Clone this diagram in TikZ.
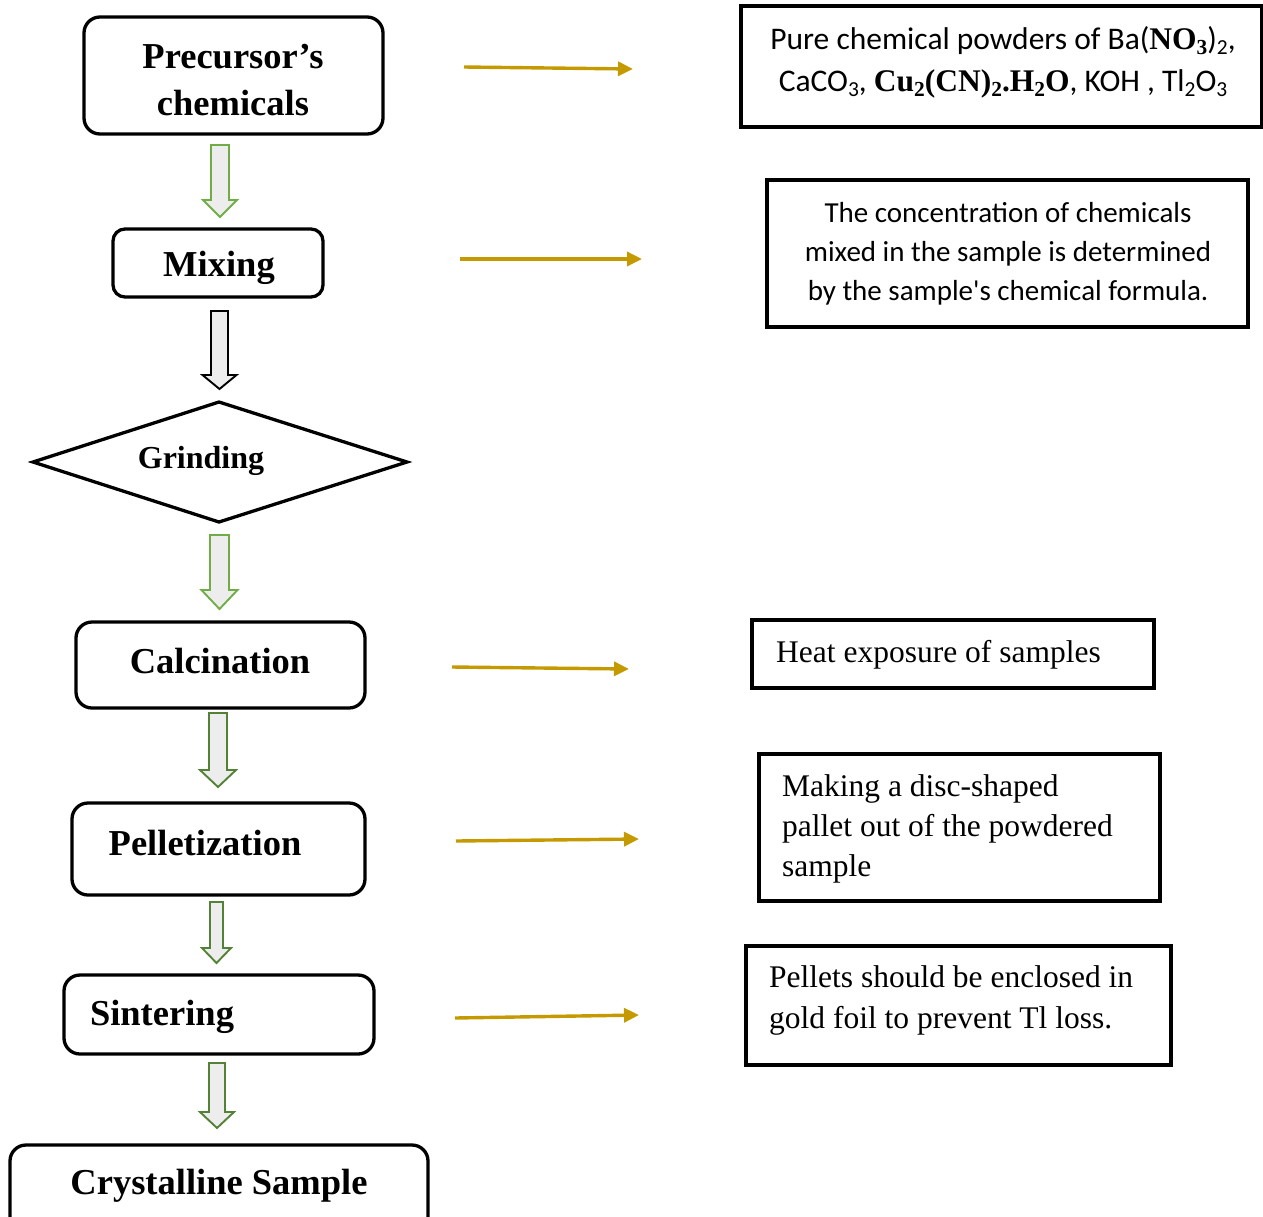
\documentclass[tikz,border=0pt]{standalone}
\usepackage{fontspec}
\setmainfont{Liberation Serif}
\newfontfamily\carl{Carlito}
\newfontfamily\cmb{Liberation Serif}
\usetikzlibrary{arrows.meta}
\definecolor{lgreen}{HTML}{70AD47}
\definecolor{dgreen}{HTML}{538135}
\definecolor{arrfill}{HTML}{EDEDED}
\definecolor{gold}{HTML}{C49A00}
\newcommand\chs[1]{\raisebox{-0.18em}{\scalebox{0.68}{#1}}}
\newcommand\blockarr[7]{%
  \draw[line width=1.9pt, draw=#7, fill=arrfill, line join=miter]
    (#1-#5,#2) -- (#1+#5,#2) -- (#1+#5,#3) -- (#1+#6,#3) -- (#1,#4)
    -- (#1-#6,#3) -- (#1-#5,#3) -- cycle;}
\tikzset{
  stagebox/.style={draw, line width=3.3pt, rounded corners=16pt, inner sep=0pt},
  notebox/.style={draw, line width=3.7pt, inner sep=0pt},
  stagetext/.style={inner sep=0pt, font=\bfseries\fontsize{36.5}{40}\selectfont},
  timestext/.style={inner sep=0pt, align=left, font=\fontsize{31.5}{40}\selectfont},
  carltext/.style={inner sep=0pt, align=center, font=\carl\fontsize{29}{39}\selectfont},
  goldarrow/.style={draw=gold, line width=3.4pt, -{Triangle[length=15pt,width=14pt]}},
}
\begin{document}
\begin{tikzpicture}[x=1pt,y=-1pt]
\useasboundingbox (0,0) rectangle (1263,1216);
\begin{scope}
\clip (0,0) rectangle (1263,1216);
% left column boxes
\node[stagebox, minimum width=299pt, minimum height=117pt] (prec) at (233.5,75.5) {};
\node[stagetext, align=center, font=\bfseries\fontsize{36.5}{47}\selectfont] (prect) at (233,80) {Precursor’s\\chemicals};
\node[stagebox, rounded corners=12pt, minimum width=210pt, minimum height=68pt] (mix) at (218,263) {};
\node[stagetext] (mixt) at (219,268) {Mixing};
\coordinate (gl) at (33,462);
\coordinate (gt) at (219,402);
\coordinate (gr) at (407,462);
\coordinate (gb) at (219,522);
\draw[line width=3.3pt, line join=miter] (gl) -- (gt) -- (gr) -- (gb) -- cycle;
\node[inner sep=0pt, font=\bfseries\fontsize{32}{36}\selectfont] (grind) at (201,461) {Grinding};
\node[stagebox, minimum width=289pt, minimum height=86pt] (calc) at (220.5,665) {};
\node[stagetext] (calct) at (220,661) {Calcination};
\node[stagebox, minimum width=293pt, minimum height=92pt] (pel) at (218.5,849) {};
\node[stagetext] (pelt) at (205,843) {Pelletization};
\node[stagebox, minimum width=310pt, minimum height=79pt] (sin) at (219,1014.5) {};
\node[stagetext] (sint) at (162,1017) {Sintering};
\node[stagebox, minimum width=418pt, minimum height=90pt] (cry) at (219,1190) {};
\node[stagetext] (cryt) at (219,1186) {Crystalline Sample};
% block arrows
\blockarr{220}{145}{200}{217}{9}{17}{lgreen}
\blockarr{219.5}{311}{375}{389}{8.5}{17}{black}
\blockarr{219.5}{535}{590}{609}{9.5}{18}{lgreen}
\blockarr{218}{713}{770}{787}{9}{18}{dgreen}
\blockarr{216.5}{902}{948}{963}{6.5}{14.5}{dgreen}
\blockarr{217}{1063}{1112}{1128}{8}{17}{dgreen}
% right boxes
\node[notebox, minimum width=521pt, minimum height=121pt] (n1) at (1001.5,66.5) {};
\node[carltext, font=\carl\fontsize{31.5}{42}\selectfont] (n1t) at (1003,62) {Pure chemical powders of Ba({\cmb\bfseries NO\chs{3}})\chs{2},\\
CaCO\chs{3}, {\cmb\bfseries Cu\chs{2}(CN)\chs{2}.H\chs{2}O}, KOH , Tl\chs{2}O\chs{3}};
\node[notebox, minimum width=481pt, minimum height=147pt] (n2) at (1007.5,253.5) {};
\node[carltext] (n2t) at (1008,254) {The concentration of chemicals\\mixed in the sample is determined\\by the sample's chemical formula.};
\node[notebox, minimum width=402pt, minimum height=68pt] (n3) at (953,654) {};
\node[timestext, anchor=west] (n3t) at (776,655) {Heat exposure of samples};
\node[notebox, minimum width=401pt, minimum height=147pt] (n4) at (959.5,827.5) {};
\node[timestext, anchor=west] (n4t) at (782,829) {Making a disc-shaped\\pallet out of the powdered\\sample};
\node[notebox, minimum width=425pt, minimum height=119pt] (n5) at (958.5,1005.5) {};
\node[timestext, anchor=west, font=\fontsize{31.5}{41}\selectfont] (n5t) at (769,1000.5) {Pellets should be enclosed in\\gold foil to prevent Tl loss.};
% gold arrows
\coordinate (a1s) at (464,67);  \coordinate (a1e) at (633,69);
\coordinate (a2s) at (460,259); \coordinate (a2e) at (642,259);
\coordinate (a3s) at (452,667); \coordinate (a3e) at (629,669);
\coordinate (a4s) at (456,841); \coordinate (a4e) at (639,839);
\coordinate (a5s) at (455,1018);\coordinate (a5e) at (639,1015);
\draw[goldarrow] (a1s) -- (a1e);
\draw[goldarrow] (a2s) -- (a2e);
\draw[goldarrow] (a3s) -- (a3e);
\draw[goldarrow] (a4s) -- (a4e);
\draw[goldarrow] (a5s) -- (a5e);
\end{scope}
\end{tikzpicture}
\end{document}
